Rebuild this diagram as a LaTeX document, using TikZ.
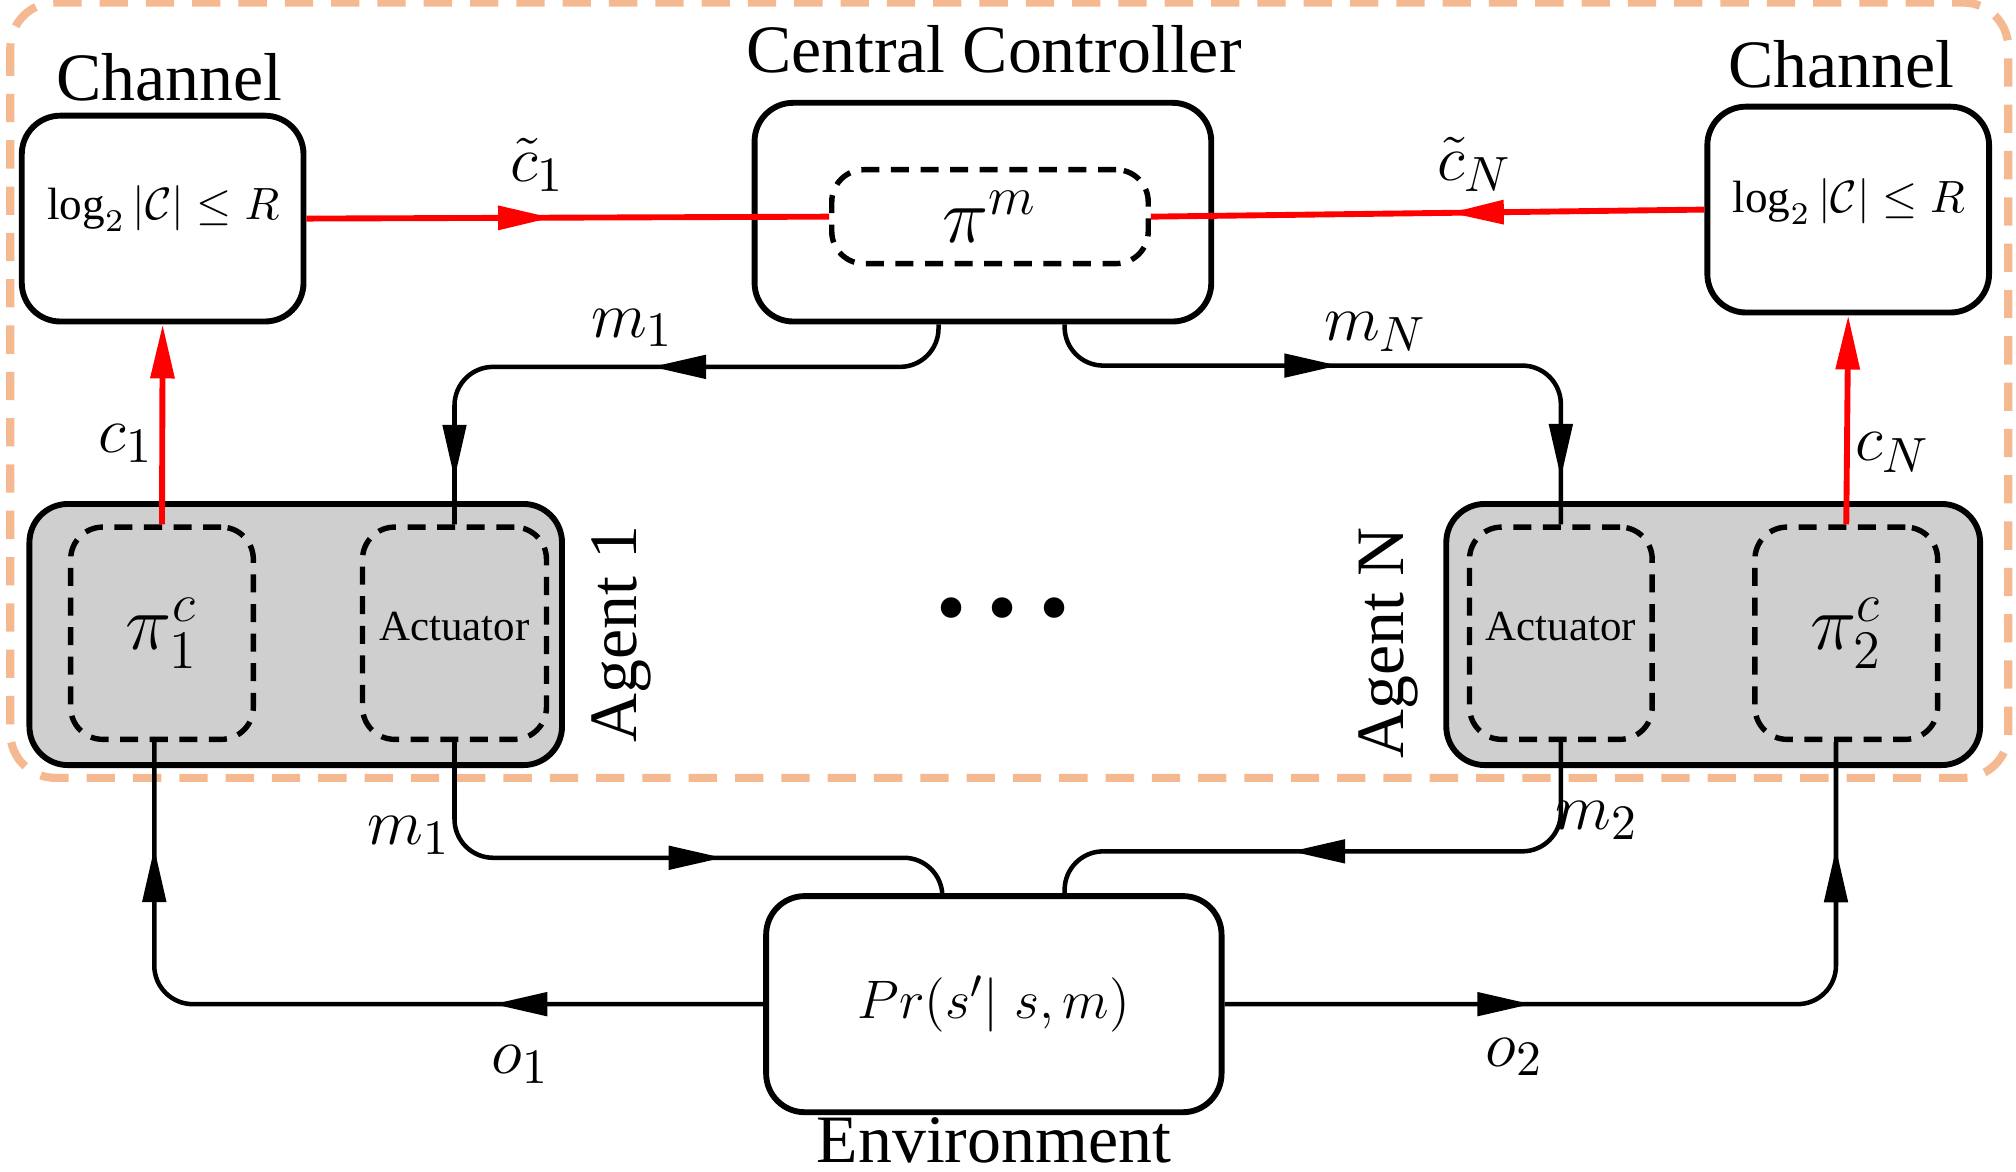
\documentclass[tikz,border=0pt]{standalone}
\usepackage{amsmath}
\usepackage{amssymb}
\usepackage{fontspec}
\setmainfont{Liberation Serif}
\usetikzlibrary{arrows.meta,decorations.markings,calc}

\definecolor{borderorange}{RGB}{244,185,145}
\definecolor{agentgray}{RGB}{208,207,207}

\tikzset{
    blk/.style={draw, line width=1.3pt, rounded corners=0.3cm, inner sep=0pt},
    inblk/.style={draw, line width=1.2pt, dash pattern=on 0.14cm off 0.09cm, rounded corners=0.25cm, inner sep=0pt},
    title/.style={font=\fontsize{15}{17}\selectfont},
    lbl/.style={font=\fontsize{15}{17}\selectfont},
    formula/.style={font=\fontsize{10}{12}\selectfont},
    policy/.style={font=\fontsize{17}{19}\selectfont},
    link/.style={line width=1pt, rounded corners=0.3cm},
    redlink/.style={red, line width=1.3pt},
    arrowat/.style={postaction={decorate, decoration={markings,
        mark=at position #1 with {\arrow{Triangle[length=0.42cm,width=0.18cm]}}}}},
}

\begin{document}
\begin{tikzpicture}[x=0.01cm, y=-0.01cm]
        \useasboundingbox (0,0) rectangle (1568,911);

        % Communication boundary
        \draw[borderorange, line width=1.8pt, dash pattern=on 0.22cm off 0.14cm, rounded corners=0.35cm] (8,2) rectangle (1562,605);

        % Channels + central controller
        \node[blk, minimum width=2.19cm, minimum height=1.6cm] (chL) at (126.5,170) {};
        \node[formula] (chLtxt) at (127,162) {$\log_2|\mathcal{C}|\leq R$};
        \node[blk, minimum width=2.19cm, minimum height=1.6cm] (chR) at (1437.5,163) {};
        \node[formula] (chRtxt) at (1438,157) {$\log_2|\mathcal{C}|\leq R$};
        \node[blk, minimum width=3.55cm, minimum height=1.7cm] (ctrl) at (764.5,165) {};
        \node[inblk, minimum width=2.46cm, minimum height=0.73cm, policy] (pim) at (770,168.5) {$\pi^m$};
        \node[title] (chLname) at (132,60) {Channel};
        \node[title] (chRname) at (1432,50) {Channel};
        \node[title] (ctrlname) at (773,38) {Central Controller};

        % Agents
        \node[blk, fill=agentgray, minimum width=4.14cm, minimum height=2.03cm] (ag1) at (230,493.5) {};
        \node[inblk, minimum width=1.42cm, minimum height=1.65cm, policy] (pi1) at (126,492.5) {$\pi_1^c$};
        \node[inblk, minimum width=1.43cm, minimum height=1.65cm] (act1) at (353.5,492.5) {};
        \node[font=\fontsize{9.5}{11}\selectfont] (act1txt) at ([yshift=0.05cm]act1) {Actuator};
        \node[title, rotate=90] (ag1name) at (483,493) {Agent 1};

        \node[blk, fill=agentgray, minimum width=4.15cm, minimum height=2.03cm] (agN) at (1332.5,493.5) {};
        \node[inblk, minimum width=1.42cm, minimum height=1.65cm] (actN) at (1214,492.5) {};
        \node[font=\fontsize{9.5}{11}\selectfont] (actNtxt) at ([yshift=0.05cm]actN) {Actuator};
        \node[inblk, minimum width=1.42cm, minimum height=1.65cm, policy] (pi2) at (1436,492.5) {$\pi_2^c$};
        \node[title, rotate=90] (agNname) at (1080,500) {Agent N};

        \node[font=\fontsize{19}{19}\selectfont] (dots) at (780,480) {• • •};

        % Environment
        \node[blk, minimum width=3.54cm, minimum height=1.68cm, font=\fontsize{13}{15}\selectfont] (env) at (773,781) {$Pr(s'|\;s,m)$};
        \node[title] (envname) at (773,887) {Environment};

        % Red links through the channels
        \draw[redlink, arrowat=0.47] (chL.east) -- (pim.west);
        \draw[redlink, arrowat=0.46] (chR.west) -- (pim.east);
        \draw[redlink, -{Triangle[length=0.42cm,width=0.18cm]}] (pi1.north) -- (chL.south);
        \draw[redlink, -{Triangle[length=0.42cm,width=0.18cm]}] (pi2.north) -- (chR.south);

        % Messages to the actuators
        \draw[link, arrowat=0.48, arrowat=0.93] ([xshift=-0.345cm]ctrl.south) -- ++(0,33) -| (act1.north);
        \draw[link, arrowat=0.45, arrowat=0.93] ([xshift=0.635cm]ctrl.south) -- ++(0,32) -| (actN.north);

        % Actions and observations
        \draw[link, arrowat=0.6] (act1.south) -- ++(0,90) -| ([xshift=-0.4cm]env.north);
        \draw[link, arrowat=0.59] (actN.south) -- ++(0,85) -| ([xshift=0.55cm]env.north);
        \draw[link, arrowat=0.316, arrowat=0.876] (env.west) -| ([xshift=-0.06cm]pi1.south);
        \draw[link, arrowat=0.358, arrowat=0.876] (env.east) -| ([xshift=-0.08cm]pi2.south);

        % Labels
        \node[lbl] (ct1) at (418,128) {$\tilde{c}_1$};
        \node[lbl] (ctN) at (1147,128) {$\tilde{c}_N$};
        \node[lbl] (c1) at (98,345) {$c_1$};
        \node[lbl] (cN) at (1472,352) {$c_N$};
        \node[lbl] (m1top) at (492,255) {$m_1$};
        \node[lbl] (mNtop) at (1070,258) {$m_N$};
        \node[lbl] (m1bot) at (318,650) {$m_1$};
        \node[lbl] (m2bot) at (1242,638) {$m_2$};
        \node[lbl] (o1) at (405,828) {$o_1$};
        \node[lbl] (o2) at (1178,822) {$o_2$};
\end{tikzpicture}
\end{document}
